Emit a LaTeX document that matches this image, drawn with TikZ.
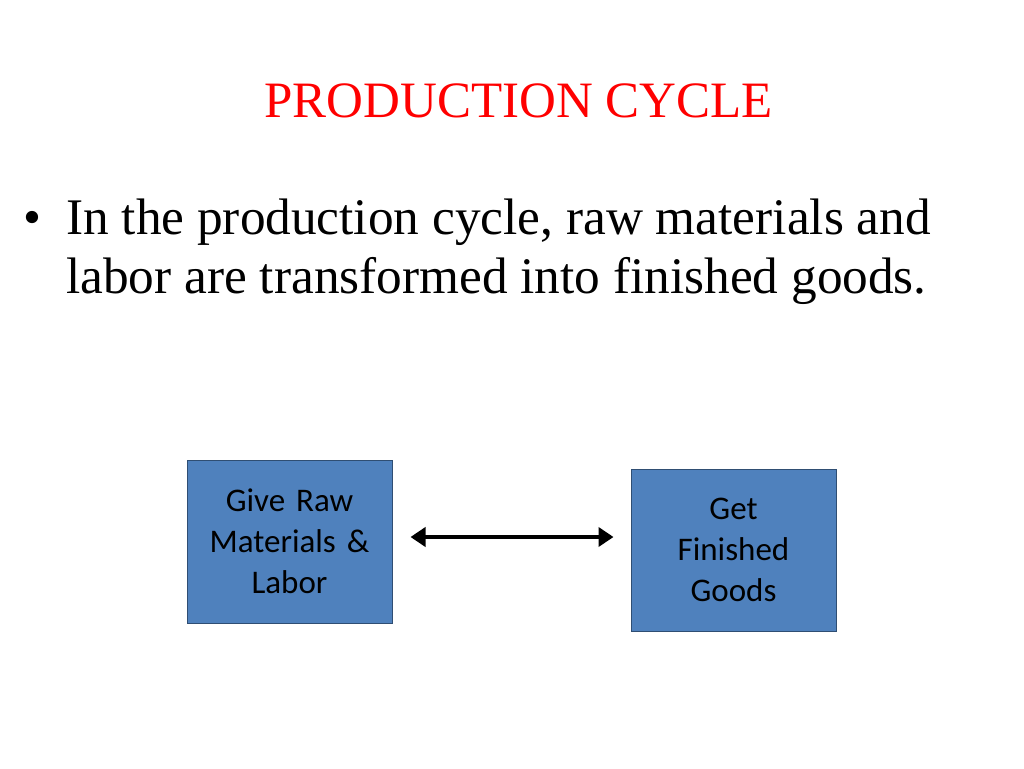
\documentclass[tikz,border=0pt]{standalone}
\usepackage{fontspec}
\setmainfont{Liberation Serif}
\newfontfamily\boxfont{Carlito}
\usetikzlibrary{arrows.meta}
\definecolor{boxfill}{HTML}{4F81BD}
\definecolor{boxline}{HTML}{2F4E73}
\definecolor{titlered}{HTML}{FF0000}
\tikzset{
  stagebox/.style={draw=boxline, line width=1pt, fill=boxfill, minimum width=205pt, inner sep=0pt,
    align=center, text width=200pt, font=\boxfont\fontsize{33pt}{41pt}\selectfont},
  txt/.style={inner sep=0pt, font=\fontsize{51.3pt}{58pt}\selectfont},
  dblarrow/.style={line width=4.5pt, {Triangle[length=15pt,width=19pt]}-{Triangle[length=15pt,width=19pt]}}
}
\begin{document}
\begin{tikzpicture}[x=1pt,y=-1pt]
\useasboundingbox (0,0) rectangle (1024,768);
\node[txt, anchor=base, text=titlered, font=\fontsize{51pt}{60pt}\selectfont] (title) at (518.5,117) {PRODUCTION CYCLE};
\node[txt, anchor=base west] (bullet) at (23,234) {•};
\node[txt, anchor=base west] (line1) at (66,234) {In the production cycle, raw materials and};
\node[txt, anchor=base west] (line2) at (66,293) {labor are transformed into finished goods.};
\node[stagebox, minimum height=163pt] (give) at (289.5,541.5) {Give Raw\\Materials \&\\Labor};
\node[stagebox, minimum height=162pt] (get) at (733.5,550) {Get\\Finished\\Goods};
\draw[dblarrow] ([shift={(18pt,4.5pt)}]give.east) coordinate (s) -- ([xshift=-17pt]s -| get.west);
\end{tikzpicture}
\end{document}
